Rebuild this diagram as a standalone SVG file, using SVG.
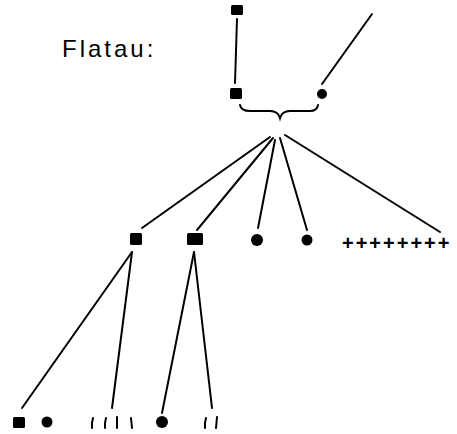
<svg xmlns="http://www.w3.org/2000/svg" width="457" height="434" viewBox="0 0 457 434">
<style>
.sq{fill:#000}
.ci{fill:#000}
.ln{stroke:#000;stroke-width:2;fill:none;stroke-linecap:round}
.tk{stroke:#000;stroke-width:2;fill:none;stroke-linecap:round}
.lbl{font-family:"Liberation Sans",Arial,sans-serif;font-size:24px;fill:#000;letter-spacing:3px}
.plus{font-family:"Liberation Sans",Arial,sans-serif;font-size:20px;font-weight:bold;fill:#000;letter-spacing:2px}
</style>
<rect width="457" height="434" fill="#fff"/>
<text class="lbl" x="62" y="57">Flatau:</text>
<g id="connectors">
<line class="ln" x1="237" y1="19" x2="235" y2="83"/>
<line class="ln" x1="372" y1="14" x2="322" y2="84"/>
<path class="ln" stroke-width="2.5" d="M240,105 Q241,111 250,111 L270,111 Q278,111 280,118 Q282,111 290,111 L310,111 Q317,111 318,105"/>
<line class="ln" x1="270" y1="137" x2="142" y2="228"/>
<line class="ln" x1="273" y1="138" x2="197" y2="230"/>
<line class="ln" x1="275" y1="140" x2="258" y2="228"/>
<line class="ln" x1="280" y1="138" x2="307" y2="230"/>
<line class="ln" x1="285" y1="135" x2="440" y2="232"/>
<line class="ln" x1="132" y1="252" x2="22" y2="408"/>
<line class="ln" x1="132" y1="252" x2="112" y2="408"/>
<line class="ln" x1="194" y1="252" x2="162" y2="413"/>
<line class="ln" x1="194" y1="252" x2="212" y2="408"/>
</g>
<g id="n-top-sq"><rect class="sq" x="231" y="5" width="12" height="10" rx="1.5"/></g>
<g id="n-sq1"><rect class="sq" x="230" y="88" width="12" height="11" rx="1.5"/></g>
<g id="n-ci1"><circle class="ci" cx="322" cy="94" r="5"/></g>
<g id="n-l2-sq1"><rect class="sq" x="130" y="233" width="12" height="12" rx="1.5"/></g>
<g id="n-l2-sq2"><rect class="sq" x="187" y="233" width="16" height="12" rx="1.5"/></g>
<g id="n-l2-ci1"><circle class="ci" cx="257" cy="240" r="6"/></g>
<g id="n-l2-ci2"><circle class="ci" cx="307" cy="240" r="5.5"/></g>
<g id="n-l2-plus"><text class="plus" x="342" y="249.5">++++++++</text></g>
<g id="n-l3-sq"><rect class="sq" x="13" y="417" width="12" height="11" rx="1.5"/></g>
<g id="n-l3-ci1"><circle class="ci" cx="47" cy="422" r="5.5"/></g>
<g id="n-l3-ticks1">
<path class="tk" d="M93,418 Q91.5,423 92,428"/>
<path class="tk" d="M106,418 Q104.5,423 105,428"/>
<line class="tk" x1="117" y1="417" x2="117" y2="428"/>
<line class="tk" x1="131" y1="418" x2="132" y2="428"/>
</g>
<g id="n-l3-ci2"><circle class="ci" cx="162" cy="422" r="6"/></g>
<g id="n-l3-ticks2">
<path class="tk" d="M206,418 Q204.5,423 205,428"/>
<line class="tk" x1="217" y1="417" x2="216" y2="428"/>
</g>
</svg>
